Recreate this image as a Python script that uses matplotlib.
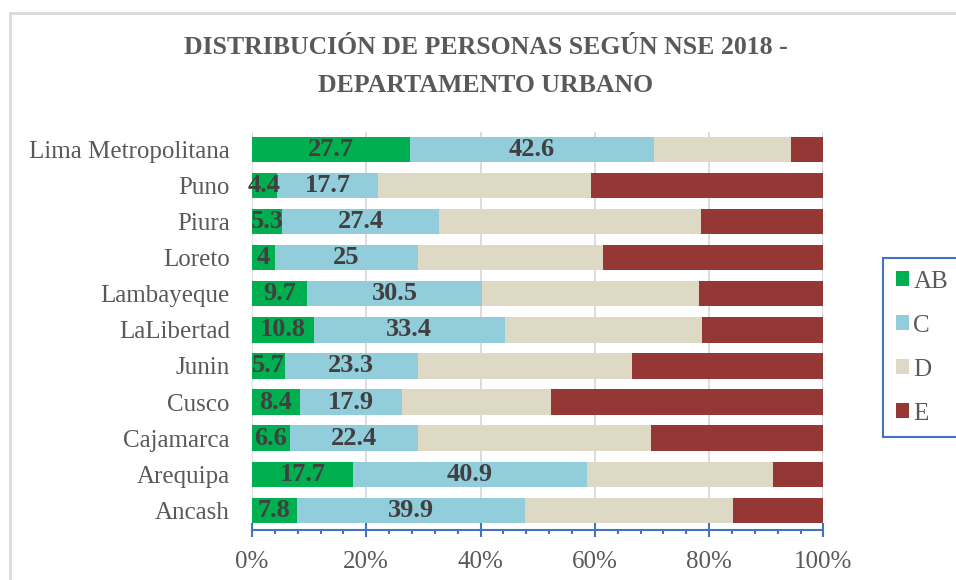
import numpy as np
import matplotlib
matplotlib.use("Agg")
import matplotlib.pyplot as plt
from matplotlib.lines import Line2D
from matplotlib.ticker import MultipleLocator, FuncFormatter

# Datos (de abajo hacia arriba, como en el grafico)
departamentos = ["Ancash", "Arequipa", "Cajamarca", "Cusco", "Junin", "LaLibertad",
                 "Lambayeque", "Loreto", "Piura", "Puno", "Lima Metropolitana"]
nse_ab = [7.8, 17.7, 6.6, 8.4, 5.7, 10.8, 9.7, 4, 5.3, 4.4, 27.7]
nse_c = [39.9, 40.9, 22.4, 17.9, 23.3, 33.4, 30.5, 25, 27.4, 17.7, 42.6]
nse_d = [36.5, 32.6, 40.9, 26.1, 37.5, 34.6, 38.1, 32.5, 45.9, 37.3, 24.0]
nse_e = [15.8, 8.8, 30.1, 47.6, 33.5, 21.2, 21.7, 38.5, 21.4, 40.6, 5.7]

series = [("AB", nse_ab, "#00B050"), ("C", nse_c, "#92CDDC"),
          ("D", nse_d, "#DDD9C4"), ("E", nse_e, "#953735")]

plt.rcParams['font.family'] = ['Liberation Serif', 'DejaVu Serif']

fig = plt.figure(figsize=(9.56, 5.8), dpi=100)
ax = fig.add_axes([252/956, 1-530/580, (823.5-252)/956, (530-132)/580])

y = np.arange(len(departamentos))
izq = np.zeros(len(departamentos))
barras = []
for nombre, vals, color in series:
    b = ax.barh(y, vals, left=izq, height=0.70, color=color, label=nombre,
                linewidth=0, zorder=2)
    barras.append(b)
    if nombre in ("AB", "C"):
        ax.bar_label(b, labels=["%g" % v for v in vals], label_type="center",
                     fontsize=19, fontweight="bold", color="#404040", zorder=3)
    izq += np.array(vals)

ax.set_xlim(0, 100)
ax.set_ylim(-0.55, 10.49)
ax.set_yticks(y)
ax.set_yticklabels(departamentos, fontsize=18, color="#595959")
ax.tick_params(axis="y", length=0, pad=16)

ax.xaxis.set_major_locator(MultipleLocator(20))
ax.xaxis.set_minor_locator(MultipleLocator(4))
ax.xaxis.set_major_formatter(FuncFormatter(lambda v, p: "%d%%" % v))
ax.tick_params(axis="x", which="major", direction="inout", length=10, width=1.5,
               color="#4472C4", labelsize=18, labelcolor="#595959", pad=10)
ax.tick_params(axis="x", which="minor", direction="out", length=3, width=1.5,
               color="#4472C4")
ax.grid(axis="x", which="major", color="#D9D9D9", linewidth=1.3, zorder=0)
ax.set_axisbelow(True)
for s in ["top", "right", "left"]:
    ax.spines[s].set_visible(False)
ax.spines["bottom"].set_color("#4472C4")
ax.spines["bottom"].set_linewidth(1.5)

fig.text(486/956, 1-48/580, "DISTRIBUCIÓN DE PERSONAS SEGÚN NSE 2018 -",
         ha="center", va="center", fontsize=18.5, fontweight="bold", color="#595959")
fig.text(486/956, 1-86/580, "DEPARTAMENTO URBANO",
         ha="center", va="center", fontsize=18.5, fontweight="bold", color="#595959")

leg = fig.legend(handles=barras, loc="upper left",
                 bbox_to_anchor=(883/956, 1-258/580), fontsize=18,
                 frameon=True, fancybox=False, framealpha=1,
                 handlelength=0.52, handleheight=0.52, handletextpad=0.2,
                 labelspacing=0.88, borderpad=0.5, borderaxespad=0)
leg.get_frame().set_edgecolor("#4472C4")
leg.get_frame().set_linewidth(1.5)
for t in leg.get_texts():
    t.set_color("#595959")

# borde del area del grafico
fig.add_artist(Line2D([10/956, 10/956], [0, 1-12.5/580], transform=fig.transFigure,
                      color="#D9D9D9", linewidth=2))
fig.add_artist(Line2D([10/956, 1], [1-12.5/580, 1-12.5/580], transform=fig.transFigure,
                      color="#D9D9D9", linewidth=2))

fig.savefig("out.png", dpi=100)
